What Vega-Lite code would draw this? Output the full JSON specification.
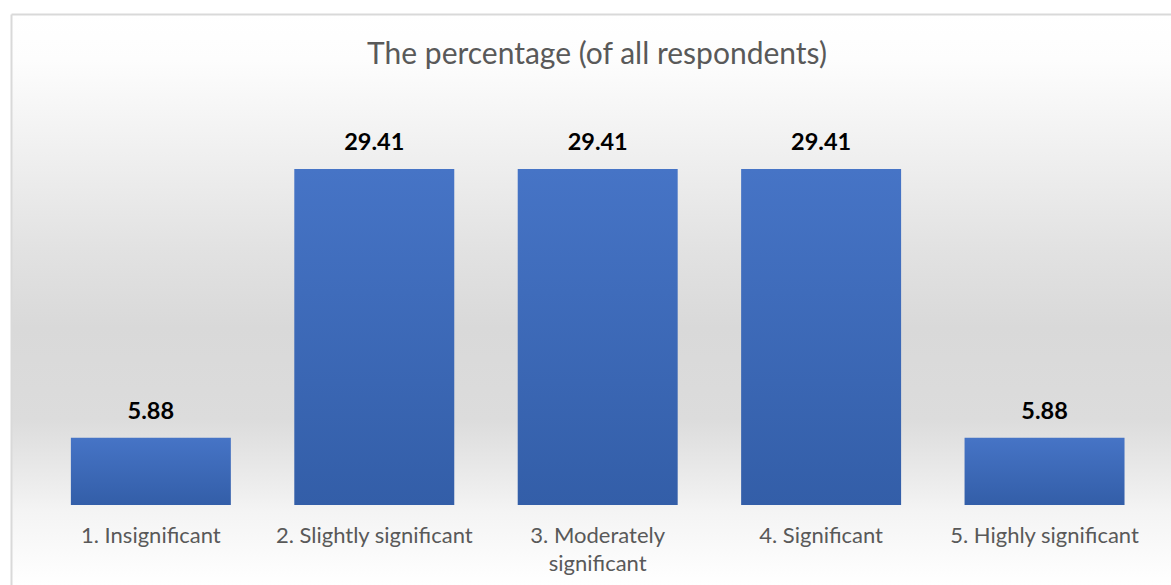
{
  "$schema": "https://vega.github.io/schema/vega-lite/v6.json",
  "width": 1160,
  "height": 571,
  "autosize": {"type": "none"},
  "padding": {"left": 11, "top": 14, "right": 0, "bottom": 0},
  "background": "#ffffff",
  "title": {
    "text": "The percentage (of all respondents)",
    "font": "Lato",
    "fontSize": 30,
    "fontWeight": "normal",
    "color": "#595959",
    "anchor": "middle",
    "baseline": "alphabetic",
    "orient": "top",
    "offset": 0,
    "dy": 80,
    "dx": 6
  },
  "data": {
    "values": [
      {"cat": "1. Insignificant", "label": "1. Insignificant", "value": 5.88},
      {"cat": "2. Slightly significant", "label": "2. Slightly significant", "value": 29.41},
      {"cat": "3. Moderately significant", "label": "3. Moderately\nsignificant", "value": 29.41},
      {"cat": "4. Significant", "label": "4. Significant", "value": 29.41},
      {"cat": "5. Highly significant", "label": "5. Highly significant", "value": 5.88}
    ]
  },
  "encoding": {
    "x": {
      "field": "cat",
      "type": "nominal",
      "sort": null,
      "scale": {"paddingInner": 0.284, "paddingOuter": 0.238, "align": 0.563},
      "axis": {
        "orient": "top",
        "title": null,
        "labels": false,
        "ticks": false,
        "grid": false,
        "domain": true,
        "domainColor": "#d9d9d9",
        "domainWidth": 2
      }
    }
  },
  "layer": [
    {
      "mark": {
        "type": "bar",
        "fill": {
          "gradient": "linear",
          "x1": 0, "y1": 0, "x2": 0, "y2": 1,
          "stops": [
            {"offset": 0, "color": "#4674C6"},
            {"offset": 1, "color": "#335EA8"}
          ]
        }
      },
      "encoding": {
        "y": {
          "field": "value",
          "type": "quantitative",
          "scale": {"domain": [-7.0, 42.98], "nice": false, "zero": false},
          "axis": {
            "title": null,
            "labels": false,
            "ticks": false,
            "grid": false,
            "domain": true,
            "domainColor": "#d9d9d9",
            "domainWidth": 2
          }
        }
      }
    },
    {
      "mark": {
        "type": "text",
        "font": "Lato",
        "fontSize": 23.5,
        "fontWeight": "bold",
        "color": "#000000",
        "baseline": "alphabetic",
        "dy": -19
      },
      "encoding": {
        "y": {"field": "value", "type": "quantitative"},
        "text": {"field": "value", "type": "quantitative", "format": ".2f"}
      }
    },
    {
      "mark": {
        "type": "text",
        "font": "Lato",
        "fontSize": 22,
        "color": "#595959",
        "baseline": "alphabetic",
        "lineBreak": "\n",
        "lineHeight": 28,
        "dy": 38
      },
      "encoding": {
        "y": {"datum": 0, "type": "quantitative"},
        "text": {"field": "label"}
      }
    }
  ],
  "config": {
    "view": {
      "stroke": null,
      "fill": {
        "gradient": "linear",
        "x1": 0, "y1": 0, "x2": 0, "y2": 1,
        "stops": [
          {"offset": 0, "color": "#ffffff"},
          {"offset": 0.08, "color": "#fdfdfd"},
          {"offset": 0.24, "color": "#f0f0f0"},
          {"offset": 0.41, "color": "#e2e2e2"},
          {"offset": 0.55, "color": "#d9d9d9"},
          {"offset": 0.71, "color": "#dcdcdc"},
          {"offset": 0.82, "color": "#ececec"},
          {"offset": 0.87, "color": "#f4f4f4"},
          {"offset": 1, "color": "#ffffff"}
        ]
      }
    }
  }
}
